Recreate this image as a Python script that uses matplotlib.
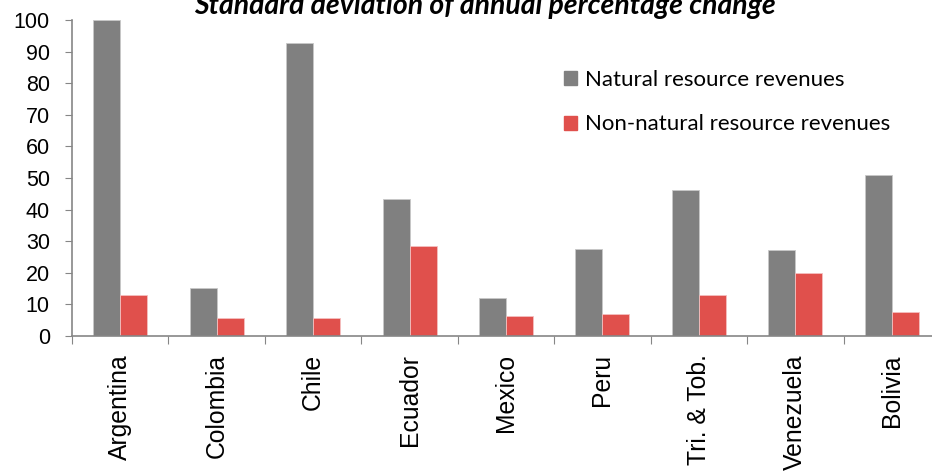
import numpy as np
from matplotlib import pyplot as plt
from matplotlib.patches import Patch

countries = ["Argentina", "Colombia", "Chile", "Ecuador", "Mexico",
             "Peru", "Tri. & Tob.", "Venezuela", "Bolivia"]
natural = [100, 15.2, 92.6, 43.5, 11.9, 27.4, 46.2, 27.3, 51.1]
non_natural = [13.0, 5.6, 5.6, 28.5, 6.3, 7.0, 12.9, 20.0, 7.7]

GRAY = "#808080"
RED = "#E0504C"
SANS = ["Liberation Sans", "DejaVu Sans"]
TITLE_FONT = ["Lato", "DejaVu Sans"]

fig = plt.figure(figsize=(9.32, 4.73), dpi=100)
# 右侧略超出画布，和原图一样被裁掉
ax = fig.add_axes([72 / 932, 137 / 473, 868 / 932, 316 / 473])

x = np.arange(len(countries))
w = 0.28
ax.bar(x - w / 2, natural, w, color=GRAY, edgecolor="#c8c8c8", linewidth=0.6)
ax.bar(x + w / 2, non_natural, w, color=RED, edgecolor="#f4c0c0", linewidth=0.6)

ax.set_xlim(-0.5, len(countries) - 0.5)
ax.set_ylim(0, 100)
ax.set_yticks(range(0, 101, 10))
ax.tick_params(axis="y", labelsize=15.5, length=5, color="#868686", pad=11)

# 类别分隔刻度
ax.set_xticks(np.arange(len(countries) + 1) - 0.5)
ax.set_xticklabels([])
ax.set_xticks(x, minor=True)
ax.set_xticklabels(countries, minor=True, rotation=90, fontsize=17.8)
ax.tick_params(axis="x", which="major", length=6, color="#868686")
ax.tick_params(axis="x", which="minor", length=0, pad=13)
for lab in ax.get_xticklabels(minor=True):
    lab.set_family(SANS)
for lab in ax.get_yticklabels():
    lab.set_family(SANS)

ax.spines["right"].set_color("none")
ax.spines["top"].set_color("none")
ax.spines["left"].set_color("#868686")
ax.spines["bottom"].set_color("#868686")
ax.spines["left"].set_linewidth(1.2)
ax.spines["bottom"].set_linewidth(1.2)

fig.text(485 / 932, 1 - 14 / 473, "Standard deviation of annual percentage change",
         ha="center", va="baseline", fontsize=20.4, fontweight="bold",
         fontstyle="italic", family=TITLE_FONT)

handles = [Patch(color=GRAY, label="Natural resource revenues"),
           Patch(color=RED, label="Non-natural resource revenues")]
fig.legend(handles=handles, loc="upper left", bbox_to_anchor=(544 / 932, 1 - 50 / 473),
           frameon=False, handlelength=0.6, handleheight=0.6, handletextpad=0.36,
           labelspacing=1.1, prop={"family": TITLE_FONT, "size": 16})

fig.savefig("out.png", dpi=100)
